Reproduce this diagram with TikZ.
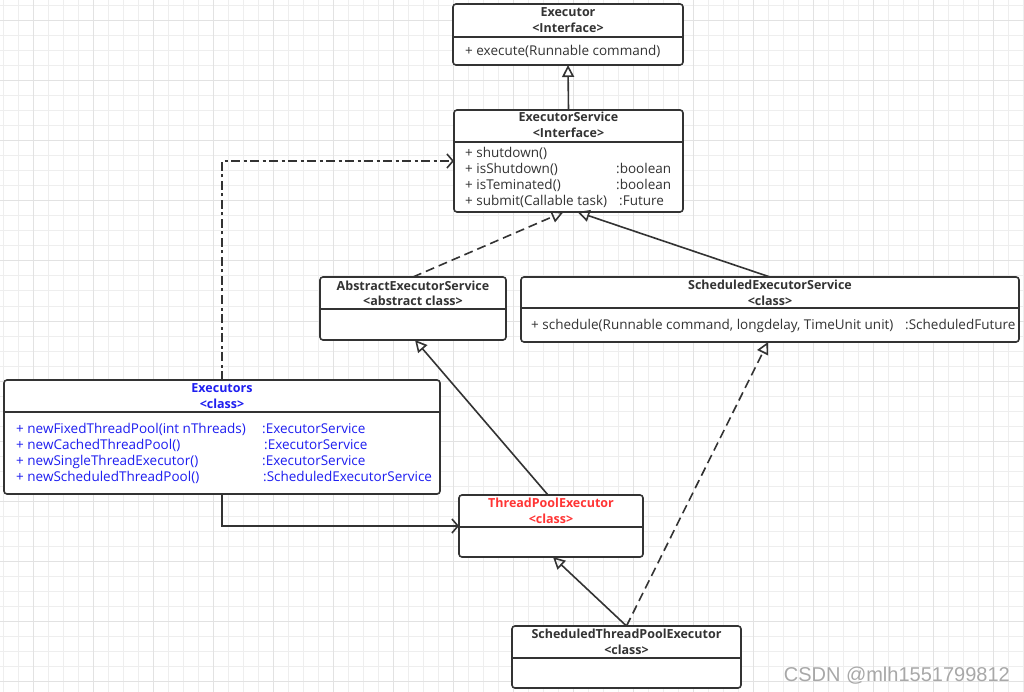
\documentclass[tikz,border=0pt]{standalone}
\usepackage{fontspec}
\setmainfont{Open Sans}
\newfontfamily\wmfont{Liberation Sans}
\usetikzlibrary{arrows.meta}
\definecolor{gridminor}{HTML}{EEEEEE}
\definecolor{gridmajor}{HTML}{E2E2E2}
\definecolor{boxline}{HTML}{333333}
\definecolor{exblue}{HTML}{1E1EF0}
\definecolor{tpred}{HTML}{FF3535}
\definecolor{wmgray}{HTML}{A8A8A8}
\begin{document}
\begin{tikzpicture}[x=1pt,y=-1pt,
  umlbox/.style={draw=boxline, line width=1.6pt, rounded corners=3pt, fill=white, inner sep=0pt, outer sep=0pt, anchor=north west},
  divider/.style={draw=boxline, line width=1.6pt},
  title/.style={font=\fontsize{12.5}{16}\selectfont\bfseries, anchor=base, inner sep=0pt, text=boxline},
  member/.style={font=\fontsize{13.5}{16}\selectfont, anchor=base west, inner sep=0pt, text=boxline},
  conn/.style={draw=boxline, line width=1.6pt},
  realize/.style={-{Triangle[open,length=12pt,width=12pt,line width=1.6pt]}},
  depend/.style={-{Straight Barb[length=6pt,width=14pt,line width=1.6pt]}},
  dashline/.style={dash pattern=on 9pt off 5pt},
  dashdot/.style={dash pattern=on 9pt off 3.5pt on 3pt off 3.5pt}
]
\useasboundingbox (0,0) rectangle (1024,692);
\fill[white] (0,0) rectangle (1024,692);
% grid
\foreach \gx in {3,18,...,1023} \draw[gridminor, line width=1pt] (\gx,0) -- (\gx,692);
\foreach \gy in {6,21,...,691} \draw[gridminor, line width=1pt] (0,\gy) -- (1024,\gy);
\foreach \gx in {33,93,...,1023} \draw[gridmajor, line width=1pt] (\gx,0) -- (\gx,692);
\foreach \gy in {21,81,...,691} \draw[gridmajor, line width=1pt] (0,\gy) -- (1024,\gy);

% Executor
\node[umlbox, minimum width=230pt, minimum height=61pt] (ex) at (453,4) {};
\draw[divider] ([yshift=-33pt]ex.north west) -- ([yshift=-33pt]ex.north east);
\node[title] (exT1) at (568,16.5) {Executor};
\node[title] (exT2) at (568,32.5) {<Interface>};
\node[member] (exM1) at (465,55.5) {+ execute(Runnable command)};

% ExecutorService
\node[umlbox, minimum width=229pt, minimum height=102pt] (es) at (454,110) {};
\draw[divider] ([yshift=-32pt]es.north west) -- ([yshift=-32pt]es.north east);
\node[title] (esT1) at (568.5,121.5) {ExecutorService};
\node[title] (esT2) at (568.5,137.5) {<Interface>};
\node[member] (esM1) at (465,157.5) {+ shutdown()};
\node[member] (esM2) at (465,173.5) {+ isShutdown()};
\node[member] (esM3) at (465,189.5) {+ isTeminated()};
\node[member] (esM4) at (465,205.5) {+ submit(Callable task)};
\node[member] (esR2) at (616,173.5) {:boolean};
\node[member] (esR3) at (616,189.5) {:boolean};
\node[member] (esR4) at (619,205.5) {:Future};

% AbstractExecutorService
\node[umlbox, minimum width=186pt, minimum height=63pt] (aes) at (320,277) {};
\draw[divider] ([yshift=-32pt]aes.north west) -- ([yshift=-32pt]aes.north east);
\node[title] (aesT1) at (413,290.5) {AbstractExecutorService};
\node[title] (aesT2) at (413,305.5) {<abstract class>};

% ScheduledExecutorService
\node[umlbox, minimum width=498pt, minimum height=65pt] (ses) at (521,277) {};
\draw[divider] ([yshift=-31pt]ses.north west) -- ([yshift=-31pt]ses.north east);
\node[title] (sesT1) at (770,289.5) {ScheduledExecutorService};
\node[title] (sesT2) at (770,305.5) {<class>};
\node[member] (sesM1) at (531,329.5) {+ schedule(Runnable command, longdelay, TimeUnit unit)};
\node[member] (sesR1) at (905,329.5) {:ScheduledFuture};

% Executors
\node[umlbox, minimum width=436pt, minimum height=114pt] (exs) at (4,380) {};
\draw[divider] ([yshift=-32pt]exs.north west) -- ([yshift=-32pt]exs.north east);
\node[title, text=exblue] (exsT1) at (222,392.5) {Executors};
\node[title, text=exblue] (exsT2) at (222,408.5) {<class>};
\node[member, text=exblue] (exsM1) at (16,433.5) {+ newFixedThreadPool(int nThreads)};
\node[member, text=exblue] (exsM2) at (16,449.5) {+ newCachedThreadPool()};
\node[member, text=exblue] (exsM3) at (16,465.5) {+ newSingleThreadExecutor()};
\node[member, text=exblue] (exsM4) at (16,481.5) {+ newScheduledThreadPool()};
\node[member, text=exblue] (exsR1) at (262,433.5) {:ExecutorService};
\node[member, text=exblue] (exsR2) at (264,449.5) {:ExecutorService};
\node[member, text=exblue] (exsR3) at (262,465.5) {:ExecutorService};
\node[member, text=exblue] (exsR4) at (263,481.5) {:ScheduledExecutorService};

% ThreadPoolExecutor
\node[umlbox, minimum width=184pt, minimum height=62pt] (tpe) at (459,495) {};
\draw[divider] ([yshift=-32pt]tpe.north west) -- ([yshift=-32pt]tpe.north east);
\node[title, text=tpred] (tpeT1) at (551,507.5) {ThreadPoolExecutor};
\node[title, text=tpred] (tpeT2) at (551,523.5) {<class>};

% ScheduledThreadPoolExecutor
\node[umlbox, minimum width=229pt, minimum height=62pt] (stpe) at (512,626) {};
\draw[divider] ([yshift=-32pt]stpe.north west) -- ([yshift=-32pt]stpe.north east);
\node[title] (stpeT1) at (626.5,638.5) {ScheduledThreadPoolExecutor};
\node[title] (stpeT2) at (626.5,654.5) {<class>};

% connectors
\draw[conn, realize] (es.north) -- (ex.south);
\draw[conn, realize, dashline] (aes.north) -- ([xshift=-5pt]es.south);
\draw[conn, realize] (ses.north) -- ([xshift=9pt]es.south);
\draw[conn, realize] ([xshift=-3pt]tpe.north) -- ([xshift=2pt]aes.south);
\draw[conn, realize] (stpe.north) -- ([xshift=2pt]tpe.south);
\draw[conn, realize, dashline] (stpe.north) -- ([xshift=-2pt]ses.south);
\draw[conn, depend, dashdot] (exs.north) |- (es.west);
\draw[conn, depend] (exs.south) |- (tpe.west);

% watermark
\node[font=\wmfont\fontsize{20}{21}\selectfont, text=wmgray, anchor=east, inner sep=0pt] (wm) at (1010,675.5) {CSDN @mlh1551799812};
\end{tikzpicture}
\end{document}
